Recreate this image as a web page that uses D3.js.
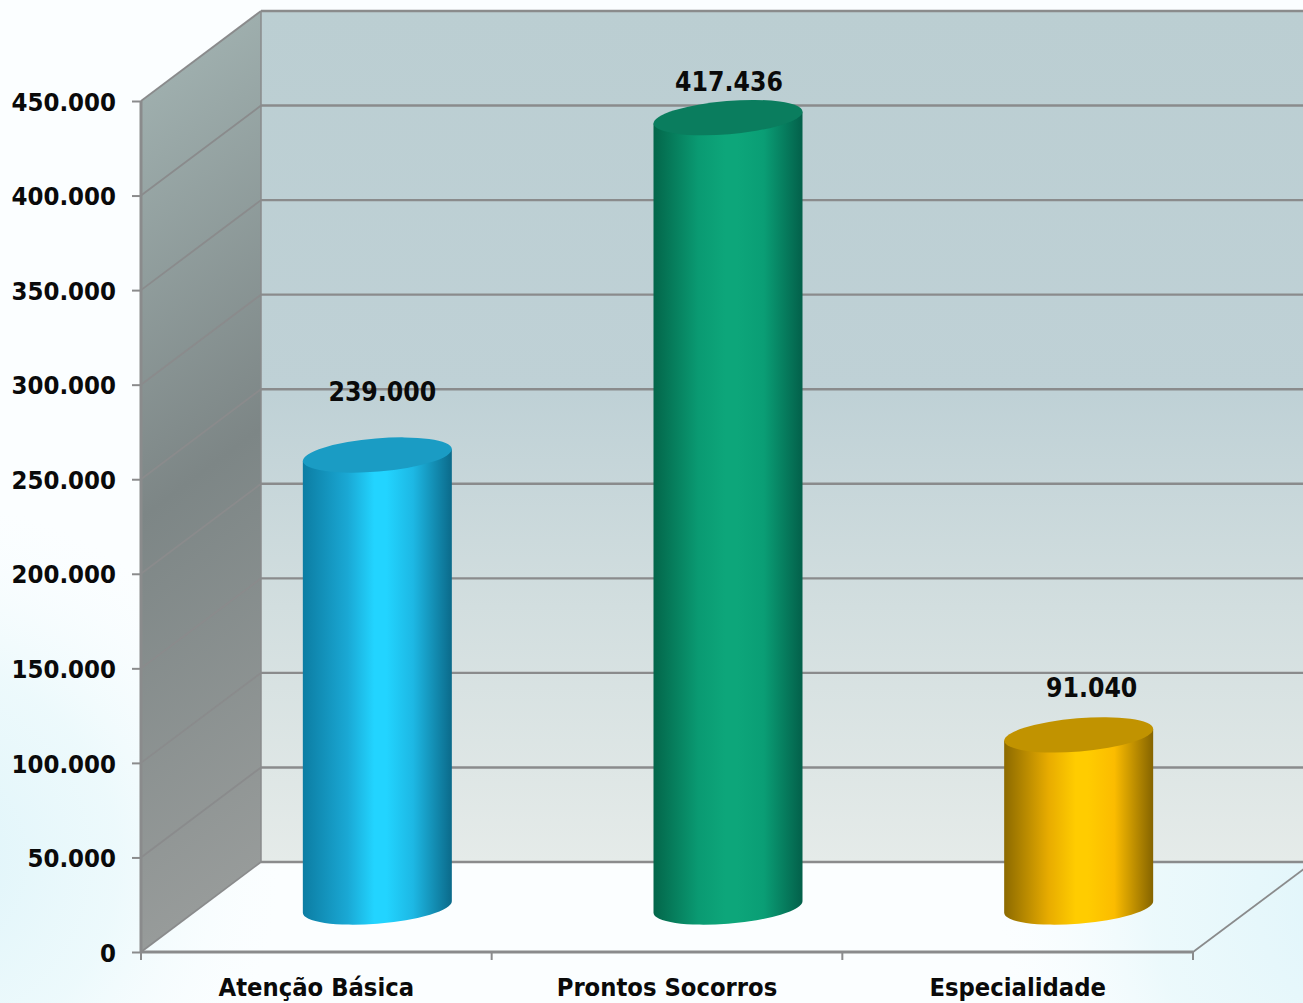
<!DOCTYPE html>
<html><head><meta charset="utf-8">
<script src="https://cdn.jsdelivr.net/npm/d3@7"></script>
<style>html,body{margin:0;padding:0;background:#fff;overflow:hidden}svg{display:block}
text{font-family:"DejaVu Sans Condensed","DejaVu Sans",sans-serif;font-stretch:condensed;font-weight:700;fill:#0a0a0a}</style></head><body>
<script>
const categories = ["Atenção Básica","Prontos Socorros","Especialidade"];
const values = [239000,417436,91040];
const tickValues = [0,50000,100000,150000,200000,250000,300000,350000,400000,450000];
const barColors = [
 {edgeL:"#0c7da3",mid:"#1aa8d4",core:"#22d4ff",midR:"#1db8e4",edgeR:"#0b6a8a",top:"#1a9cc4"},
 {edgeL:"#03664a",mid:"#0a9a72",core:"#0da67a",midR:"#0a9e75",edgeR:"#03604a",top:"#0a7d5e"},
 {edgeL:"#8c6a00",mid:"#e8ac00",core:"#ffcc00",midR:"#fbbc00",edgeR:"#856400",top:"#c19300"}
];
const W=1303,H=1003;
const depthX=120, depthY=90;
const plot={left:141,right:1193,bottom:952,top:101};
const y=d3.scaleLinear().domain([0,450000]).range([plot.bottom,plot.top]);
const x=d3.scaleBand().domain(categories).range([plot.left,plot.right]);
const fmt=d3.formatLocale({decimal:",",thousands:".",grouping:[3],currency:["",""]}).format(",d");

const svg=d3.select("body").append("svg").attr("width",W).attr("height",H).attr("viewBox",`0 0 ${W} ${H}`);
const defs=svg.append("defs");
function lin(id,x1,y1,x2,y2,stops,user){const g=defs.append("linearGradient").attr("id",id).attr("x1",x1).attr("y1",y1).attr("x2",x2).attr("y2",y2);
 if(user)g.attr("gradientUnits","userSpaceOnUse");
 stops.forEach(s=>g.append("stop").attr("offset",s[0]).attr("stop-color",s[1]).attr("stop-opacity",s[2]===undefined?1:s[2]));}
function rad(id,cx,cy,r,stops){const g=defs.append("radialGradient").attr("id",id).attr("gradientUnits","userSpaceOnUse").attr("cx",cx).attr("cy",cy).attr("r",r);
 stops.forEach(s=>g.append("stop").attr("offset",s[0]).attr("stop-color",s[1]).attr("stop-opacity",s[2]));}
rad("bgL",-80,860,360,[[0,"#dcf3f9",1],[.55,"#e8f8fb",.75],[1,"#f6fcfe",0]]);
rad("bgR",1380,900,380,[[0,"#def4fa",1],[.6,"#e8f8fb",.8],[1,"#f6fcfe",0]]);
lin("wall","0","0","0","1",[[0,"#bbced2"],[.45,"#bfd1d6"],[.7,"#d2dedf"],[1,"#e5ebe9"]]);
lin("side",plot.left,plot.top,plot.left+408,plot.top+545,[[0,"#9eaead"],[.49,"#7d8686"],[1,"#979b9a"]],true);
barColors.forEach((c,i)=>lin("cyl"+i,"0","0","1","0",[[0,c.edgeL],[.3,c.mid],[.48,c.core],[.56,c.core],[.74,c.midR],[1,c.edgeR]]));

// background
svg.append("rect").attr("width",W).attr("height",H).attr("fill","#fbfeff");
svg.append("rect").attr("width",W).attr("height",H).attr("fill","url(#bgL)");
svg.append("rect").attr("width",W).attr("height",H).attr("fill","url(#bgR)");

// walls
const line=d3.line();
const gray="#8a8b8c";
const yMax=y.domain()[1];
svg.append("path").attr("fill","url(#wall)")
  .attr("d",line([[plot.left+depthX,y(yMax)-depthY],[plot.right+depthX,y(yMax)-depthY],[plot.right+depthX,y(0)-depthY],[plot.left+depthX,y(0)-depthY]])+"Z");
svg.append("path").attr("fill","url(#side)")
  .attr("d",line([[plot.left,y(yMax)],[plot.left+depthX,y(yMax)-depthY],[plot.left+depthX,y(0)-depthY],[plot.left,y(0)]])+"Z");

// gridlines
svg.append("g").selectAll("line").data(tickValues).join("line")
  .attr("x1",plot.left+depthX).attr("x2",plot.right+depthX)
  .attr("y1",d=>y(d)-depthY).attr("y2",d=>y(d)-depthY)
  .attr("stroke",gray).attr("stroke-width",2.4);
svg.append("g").selectAll("line").data(tickValues).join("line")
  .attr("x1",plot.left).attr("x2",plot.left+depthX)
  .attr("y1",d=>y(d)).attr("y2",d=>y(d)-depthY)
  .attr("stroke",gray).attr("stroke-width",1.8);
// frame
svg.append("line").attr("x1",plot.left+depthX).attr("x2",plot.left+depthX).attr("y1",y(yMax)-depthY).attr("y2",y(0)-depthY).attr("stroke",gray).attr("stroke-width",1.5);
svg.append("line").attr("x1",plot.right).attr("x2",plot.right+depthX).attr("y1",y(0)).attr("y2",y(0)-depthY).attr("stroke",gray).attr("stroke-width",1.8);

// axes
const yAxis=d3.axisLeft(y).tickValues(tickValues).tickFormat(fmt).tickSize(9).tickPadding(16);
const gy=svg.append("g").attr("transform",`translate(${plot.left},0)`).call(yAxis);
gy.select(".domain").attr("stroke",gray).attr("stroke-width",3).attr("d",`M0,${y(yMax)}V${y(0)}`);
gy.selectAll(".tick line").attr("stroke",gray).attr("stroke-width",2);
gy.selectAll("text").attr("font-size",25.5).attr("fill","#0a0a0a").attr("font-family",null).attr("dy","0.36em");

const xEdges=[...categories.map(c=>x(c)),plot.right];
svg.append("line").attr("x1",plot.left).attr("x2",plot.right).attr("y1",y(0)).attr("y2",y(0)).attr("stroke",gray).attr("stroke-width",3);
svg.append("g").selectAll("line").data(xEdges).join("line")
  .attr("x1",d=>d).attr("x2",d=>d).attr("y1",y(0)).attr("y2",y(0)+8).attr("stroke",gray).attr("stroke-width",2);
svg.append("g").selectAll("text").data(categories).join("text")
  .attr("x",d=>x(d)+x.bandwidth()/2).attr("y",y(0)+43.5).attr("text-anchor","middle")
  .attr("font-size",25.3).text(d=>d);

// cylinders
const A=74.74,B=16.6,rot=-4.72;           // tilted ellipse of the cylinder cap
const th=rot*Math.PI/180;
const hx=Math.sqrt(A*A*Math.cos(th)**2+B*B*Math.sin(th)**2);
const hy=(A*A-B*B)*Math.sin(th)*Math.cos(th)/hx;
const cx=d=>x(d)+x.bandwidth()/2+depthX/2+1;
const cy=v=>y(v)-depthY/2;
const bars=categories.map((c,i)=>({c,v:values[i],i}));
const arc=(px,py,sweep)=>`A${A},${B} ${rot} 1 ${sweep} ${px},${py}`;
const gb=svg.append("g").selectAll("g").data(bars).join("g");
gb.append("path").attr("fill",d=>`url(#cyl${d.i})`).attr("d",d=>{
  const X=cx(d.c),T=cy(d.v),Bt=cy(0);
  return `M${X-hx},${T-hy}L${X-hx},${Bt-hy}${arc(X+hx,Bt+hy,0)}L${X+hx},${T+hy}Z`;
});
gb.append("ellipse").attr("rx",A).attr("ry",B).attr("fill",d=>barColors[d.i].top)
  .attr("transform",d=>`translate(${cx(d.c)},${cy(d.v)}) rotate(${rot})`);

// value labels (hand-placed in the original, so each has its own lift)
const labelLift=[[5,63],[1,36],[13,47]];
svg.append("g").selectAll("text").data(bars).join("text")
  .attr("x",d=>cx(d.c)+labelLift[d.i][0]).attr("y",d=>cy(d.v)-labelLift[d.i][1]).attr("dy","0.36em")
  .attr("text-anchor","middle").attr("font-size",26.3).text(d=>fmt(d.v));
</script></body></html>
